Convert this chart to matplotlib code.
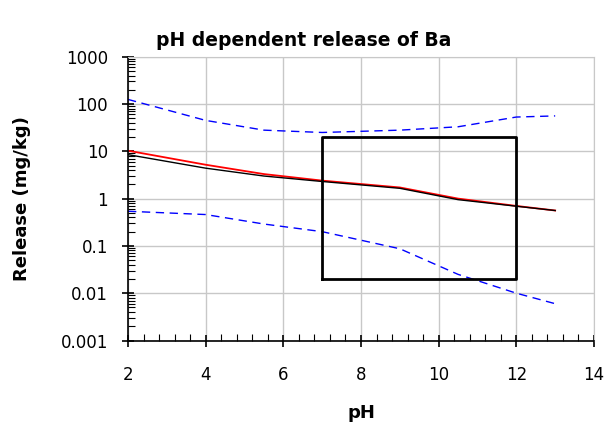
import matplotlib.pyplot as plt
import numpy as np
from matplotlib.ticker import LogLocator, MultipleLocator, FixedFormatter, FixedLocator

ph = [2, 4, 5.5, 7, 9, 10.5, 12, 13]
release_red = [10.3, 5.2, 3.3, 2.4, 1.72, 1.0, 0.7, 0.56]
release_black = [8.5, 4.4, 3.0, 2.3, 1.65, 0.95, 0.69, 0.56]
upper_blue = [125, 45, 28, 25, 28, 33, 53, 56]
lower_blue = [0.54, 0.46, 0.29, 0.20, 0.087, 0.025, 0.01, 0.006]

box_ph = [7, 7, 12, 12, 7]
box_release = [0.02, 20, 20, 0.02, 0.02]

ytick_vals = [0.001, 0.01, 0.1, 1, 10, 100, 1000]
ytick_labels = ["0.001", "0.01", "0.1", "1", "10", "100", "1000"]

plt.rcParams['font.family'] = ['DejaVu Sans']

fig = plt.figure(figsize=(6.08, 4.26), dpi=100)
ax = fig.add_axes([128 / 608, 1 - 340.5 / 426, (594 - 128) / 608, (340.5 - 56.7) / 426])

ax.plot(ph, upper_blue, color="#0000ff", lw=1.0, dashes=(6, 4))
ax.plot(ph, lower_blue, color="#0000ff", lw=1.0, dashes=(6, 4))
ax.plot(ph, release_red, color="#ff0000", lw=1.3)
ax.plot(ph, release_black, color="black", lw=1.0)
ax.plot(box_ph, box_release, color="black", lw=2.0)

ax.set_yscale("log")
ax.set_xlim(2, 14)
ax.set_ylim(0.001, 1000)

ax.yaxis.set_major_locator(FixedLocator(ytick_vals))
ax.yaxis.set_major_formatter(FixedFormatter(ytick_labels))
ax.yaxis.set_minor_locator(LogLocator(base=10, subs=np.arange(2, 10)))
ax.xaxis.set_major_locator(MultipleLocator(2))
ax.xaxis.set_minor_locator(MultipleLocator(0.4))

ax.grid(True, which="major", color="#c8c8c8", lw=1.0)
ax.set_axisbelow(True)

for s in ["top", "right"]:
    ax.spines[s].set_color("#c8c8c8")
ax.spines["left"].set_linewidth(1.2)
ax.spines["bottom"].set_linewidth(1.2)

ax.tick_params(which="major", direction="inout", length=9, width=1.2, labelsize=12)
ax.tick_params(which="minor", direction="in", length=5, width=0.8)
ax.tick_params(axis="x", pad=14)
ax.tick_params(axis="y", pad=10)

fig.text(0.5, 1 - 40 / 426, "pH dependent release of Ba", ha="center", va="center",
         fontsize=13.5, fontweight="bold")
fig.text(361 / 608, 1 - 413 / 426, "pH", ha="center", va="center",
         fontsize=13, fontweight="bold")
fig.text(22 / 608, 1 - 199 / 426, "Release (mg/kg)", ha="center", va="center",
         rotation=90, fontsize=13, fontweight="bold")

fig.savefig("out.png", dpi=100)
